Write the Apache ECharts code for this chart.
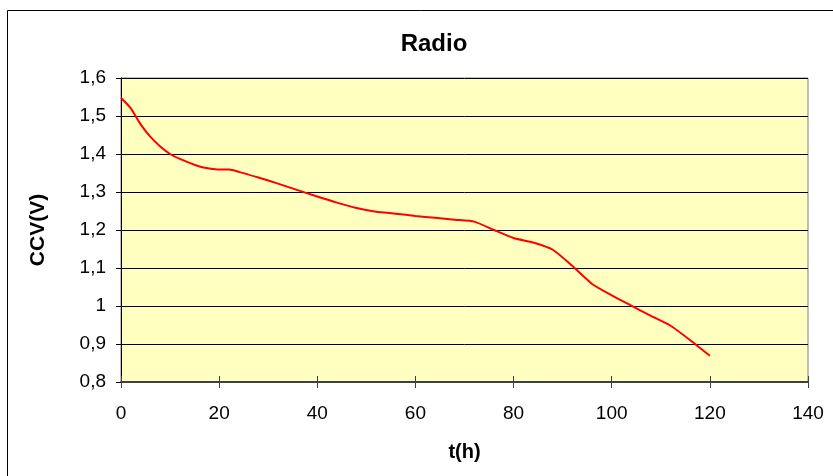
<!DOCTYPE html>
<html>
<head>
<meta charset="utf-8">
<script src="https://cdn.jsdelivr.net/npm/echarts@6/dist/echarts.min.js"></script>
<style>
html,body{margin:0;padding:0;background:#fff;}
#c{width:833px;height:476px;}
</style>
</head>
<body>
<div id="c"></div>
<script>
var titleText = 'Radio';
var xName = 't(h)';
var yName = 'CCV(V)';
var hours = [0, 2, 4, 6, 8, 10, 12, 16, 20, 22, 24, 28, 32, 36, 40, 44, 48, 52, 56, 60, 64, 68, 72, 76, 80, 84, 88, 92, 96, 100, 104, 108, 112, 116, 120];
var volts = [1.548, 1.52, 1.478, 1.445, 1.42, 1.4, 1.387, 1.367, 1.359, 1.359, 1.353, 1.338, 1.322, 1.305, 1.288, 1.272, 1.258, 1.248, 1.243, 1.237, 1.232, 1.227, 1.222, 1.2, 1.179, 1.167, 1.148, 1.105, 1.058, 1.028, 1.001, 0.974, 0.948, 0.91, 0.869];

var data = hours.map(function (h, i) { return [h, volts[i]]; });
var fmt = function (v) { return String(Math.round(v * 10) / 10).replace('.', ','); };

var chart = echarts.init(document.getElementById('c'));
chart.setOption({
  animation: false,
  backgroundColor: '#ffffff',
  title: {
    text: titleText,
    left: 429, top: 27, textAlign: 'center',
    textStyle: { fontFamily: 'Liberation Sans, Arial, sans-serif', fontWeight: 'bold', fontSize: 24, color: '#000' }
  },
  graphic: [
    { type: 'rect', z: -1, shape: { x: 7.5, y: 10.5, width: 900, height: 600 }, style: { fill: 'none', stroke: '#000', lineWidth: 1 } }
  ],
  grid: { left: 121, top: 78, right: 25, bottom: 94, show: true, backgroundColor: '#FFFFC0', borderColor: '#808080', borderWidth: 1 },
  xAxis: [{
    type: 'value', min: 0, max: 140, interval: 20,
    name: xName, nameLocation: 'middle', nameGap: 60,
    nameTextStyle: { fontFamily: 'Liberation Sans, Arial, sans-serif', fontWeight: 'bold', fontSize: 20, color: '#000' },
    axisLine: { show: true, onZero: false, lineStyle: { color: '#404040', width: 2 } },
    axisTick: { show: true, length: 6, lineStyle: { color: '#404040', width: 1 } },
    axisLabel: { margin: 22, fontFamily: 'Liberation Sans, Arial, sans-serif', fontSize: 19, color: '#000' },
    splitLine: { show: false }
  }, {
    type: 'value', min: 0, max: 140, interval: 20, position: 'bottom',
    axisLine: { show: false },
    axisTick: { show: true, inside: true, length: 6, lineStyle: { color: '#404040', width: 1 } },
    axisLabel: { show: false },
    splitLine: { show: false }
  }],
  yAxis: {
    type: 'value', min: 0.8, max: 1.6, interval: 0.1,
    name: yName, nameLocation: 'middle', nameGap: 72, nameRotate: 90,
    nameTextStyle: { fontFamily: 'Liberation Sans, Arial, sans-serif', fontWeight: 'bold', fontSize: 21, color: '#000' },
    axisLine: { show: true, lineStyle: { color: '#000', width: 1 } },
    axisTick: { show: true, length: 5, lineStyle: { color: '#000', width: 1 } },
    axisLabel: { margin: 15, formatter: fmt, fontFamily: 'Liberation Sans, Arial, sans-serif', fontSize: 19, color: '#000' },
    splitLine: { show: true, lineStyle: { color: '#000', width: 1 } }
  },
  series: [{
    type: 'line', data: data, xAxisIndex: 0, smooth: 0.2, showSymbol: false,
    lineStyle: { color: '#FF0000', width: 2 }
  }]
});
</script>
</body>
</html>
